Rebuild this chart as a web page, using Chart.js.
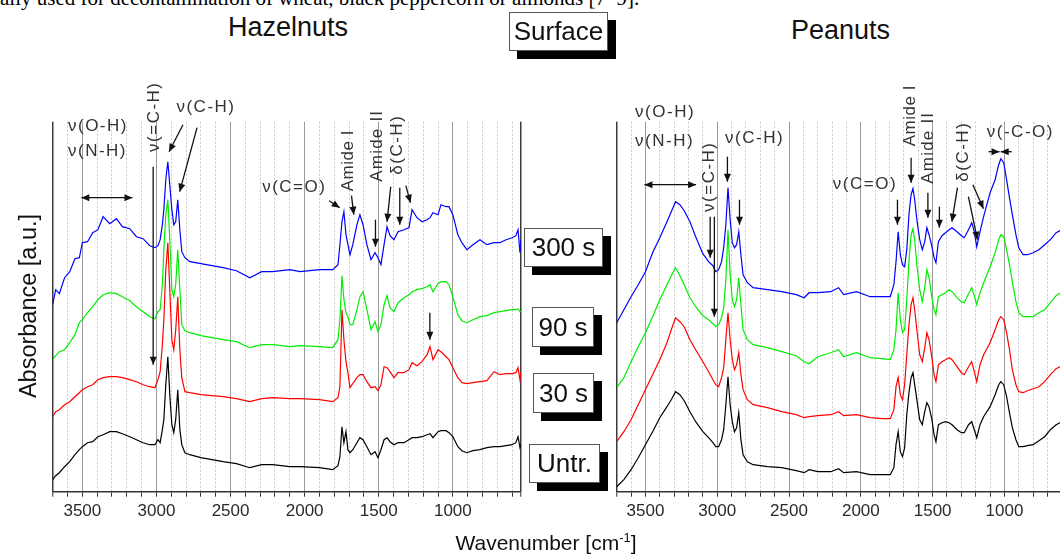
<!DOCTYPE html>
<html>
<head>
<meta charset="utf-8">
<script src="https://cdn.jsdelivr.net/npm/chart.js@4.4.1/dist/chart.umd.min.js"></script>
<style>
  html, body { margin: 0; padding: 0; background: #fff; overflow: hidden; }
  #page { position: relative; width: 1060px; height: 556px; overflow: hidden; font-family: Arial, "Liberation Sans", sans-serif; color: #111; }
  canvas { position: absolute; top: 0; }
  .t { position: absolute; white-space: nowrap; }
  .para { font-family: "Liberation Serif", "Times New Roman", serif; font-size: 21px; line-height: 21px; left: 0; top: -12px; color: #000; }
  .head { font-size: 27px; line-height: 30px; }
  .box { position: absolute; background: #fff; border: 1px solid #555; box-shadow: 8px 8px 0 #000; text-align: center; font-size: 26px; z-index: 2; box-sizing: border-box; }
  .ytitle { font-size: 23.5px; line-height: 30px; width: 260px; text-align: center; left: -102px; top: 291px; transform: rotate(-90deg); }
  .xtitle { font-size: 21px; line-height: 30px; width: 300px; text-align: center; left: 396px; top: 528px; }
  .xtitle sup { font-size: 13px; vertical-align: 8px; line-height: 0; }
</style>
</head>
<body>
<div id="page">
  <div class="t para">ally used for decontamination of wheat, black peppercorn or almonds [7–9].</div>
  <div class="t head" style="left:228px;top:12px">Hazelnuts</div>
  <div class="t head" style="left:791px;top:15px">Peanuts</div>

  <canvas id="hazel" width="530" height="556" style="left:0"></canvas>
  <canvas id="peanut" width="520" height="556" style="left:560px"></canvas>

  <div class="box" style="left:509px;top:12px;width:99px;height:39px;line-height:37px">Surface</div>
  <div class="box" id="lab0" style="left:524px;top:228px;width:79px;height:39px;line-height:37px"></div>
  <div class="box" id="lab1" style="left:532px;top:307px;width:62px;height:40px;line-height:38px"></div>
  <div class="box" id="lab2" style="left:533px;top:373px;width:61px;height:40px;line-height:38px"></div>
  <div class="box" id="lab3" style="left:529px;top:444px;width:71px;height:39px;line-height:37px"></div>

  <div class="t ytitle">Absorbance [a.u.]</div>
  <div class="t xtitle">Wavenumber [cm<sup>-1</sup>]</div>
</div>

<script>
// ---- data (absorbance, arbitrary units, traces offset as in the figure) ----
const timeLabels = ['300 s', '90 s', '30 s', 'Untr.'];
const majorTicks = [1000, 1500, 2000, 2500, 3000, 3500];
const xMin = 540, xMax = 3700;

const wnHazel = [3700,3680,3655,3620,3585,3550,3520,3500,3465,3430,3395,3360,3315,3270,3230,3180,3135,3090,3045,3010,
  2990,2975,2960,2950,2937,2923,2910,2896,2883,2870,2856,2842,2829,2808,2775,2700,2625,2550,2460,2370,
  2290,2215,2100,2030,1900,1810,1775,1762,1748,1735,1721,1708,1694,1675,1647,1627,1606,1580,1552,1525,
  1505,1485,1464,1444,1424,1397,1370,1330,1296,1275,1242,1208,1174,1154,1134,1100,1080,1046,1026,1000,
  966,939,905,864,817,770,722,682,641,600,575,560,547,540];

const hazel300 = [1.87,2.02,1.98,2.14,2.20,2.33,2.34,2.49,2.50,2.59,2.62,2.75,2.68,2.73,2.65,2.63,2.55,2.53,2.46,2.44,
  2.46,2.52,2.67,2.82,3.12,3.30,3.07,2.82,2.67,2.70,2.92,2.62,2.40,2.34,2.30,2.28,2.26,2.24,2.21,2.14,
  2.20,2.20,2.22,2.20,2.22,2.22,2.27,2.47,2.70,2.80,2.57,2.47,2.37,2.47,2.67,2.77,2.67,2.47,2.32,2.39,
  2.34,2.27,2.47,2.65,2.56,2.52,2.60,2.62,2.64,2.82,2.74,2.70,2.72,2.74,2.79,2.77,2.87,2.85,2.85,2.77,
  2.57,2.49,2.42,2.47,2.52,2.47,2.49,2.49,2.52,2.54,2.56,2.62,2.39,2.52];
const hazel90 = [1.32,1.36,1.40,1.42,1.49,1.57,1.69,1.72,1.79,1.85,1.92,1.97,1.99,1.98,1.95,1.91,1.85,1.80,1.75,1.73,
  1.80,1.82,2.07,2.42,2.77,2.92,2.52,2.02,1.95,2.07,2.42,2.02,1.67,1.61,1.59,1.56,1.54,1.52,1.50,1.44,
  1.47,1.47,1.45,1.46,1.45,1.44,1.52,1.72,2.16,1.92,1.79,1.75,1.67,1.67,1.82,1.95,2.00,1.82,1.62,1.70,
  1.60,1.67,1.87,1.96,1.84,1.80,1.89,1.94,1.97,2.00,2.02,2.03,2.05,2.07,2.00,2.08,2.10,2.10,2.07,1.95,
  1.77,1.71,1.69,1.72,1.75,1.76,1.79,1.80,1.81,1.82,1.82,1.83,1.80,1.80];
const hazel30 = [0.75,0.80,0.82,0.87,0.90,0.95,0.99,1.02,1.05,1.07,1.12,1.14,1.15,1.15,1.14,1.12,1.10,1.07,1.05,1.04,
  1.12,1.20,1.47,1.72,2.22,2.49,2.02,1.52,1.42,1.62,1.95,1.42,1.14,1.00,0.99,0.97,0.96,0.95,0.93,0.90,
  0.93,0.94,0.93,0.93,0.92,0.90,0.94,1.05,1.82,1.52,1.30,1.19,1.04,1.08,1.14,1.17,1.17,1.10,1.04,1.05,
  1.01,1.07,1.25,1.24,1.20,1.14,1.19,1.19,1.22,1.29,1.26,1.30,1.37,1.45,1.32,1.42,1.40,1.35,1.32,1.24,
  1.14,1.09,1.08,1.09,1.10,1.11,1.20,1.17,1.18,1.18,1.19,1.24,1.12,1.20];
const hazelUntr = [0.12,0.16,0.19,0.25,0.30,0.37,0.42,0.45,0.49,0.50,0.55,0.57,0.60,0.60,0.58,0.55,0.52,0.49,0.47,0.47,
  0.52,0.49,0.62,0.72,1.07,1.35,0.97,0.67,0.59,0.72,1.02,0.62,0.47,0.39,0.37,0.34,0.32,0.30,0.28,0.24,
  0.27,0.27,0.25,0.25,0.24,0.22,0.26,0.35,0.65,0.49,0.60,0.42,0.39,0.42,0.49,0.54,0.52,0.45,0.37,0.40,
  0.34,0.42,0.52,0.54,0.50,0.47,0.49,0.49,0.52,0.54,0.54,0.55,0.57,0.58,0.54,0.60,0.61,0.61,0.59,0.55,
  0.45,0.41,0.39,0.41,0.42,0.44,0.45,0.45,0.46,0.47,0.49,0.55,0.44,0.47];

const wnPeanut = [3700,3650,3600,3550,3500,3450,3400,3350,3320,3290,3260,3230,3190,3150,3100,3060,3030,3010,2990,2970,
  2955,2940,2925,2910,2895,2880,2865,2850,2835,2820,2790,2750,2650,2550,2450,2395,2360,2300,2210,2155,
  2120,2030,1935,1850,1795,1770,1755,1740,1725,1710,1695,1680,1665,1650,1637,1625,1610,1590,1572,1555,
  1540,1525,1505,1490,1477,1460,1435,1410,1385,1365,1330,1300,1280,1250,1228,1210,1193,1170,1145,1100,
  1065,1040,1025,1005,985,965,945,920,900,870,840,800,760,720,680,640,600,560,540];

const peanut300 = [1.69,1.82,1.95,2.07,2.20,2.39,2.54,2.70,2.80,2.90,2.87,2.81,2.70,2.55,2.38,2.30,2.26,2.20,2.22,2.30,
  2.44,2.67,3.04,2.72,2.49,2.44,2.47,2.60,2.37,2.17,2.09,2.04,2.02,2.00,1.97,1.94,1.99,1.99,2.00,2.04,
  1.97,2.00,1.95,1.95,1.95,2.07,2.30,2.60,2.37,2.27,2.25,2.42,2.77,2.97,3.03,2.92,2.72,2.52,2.42,2.50,
  2.64,2.57,2.45,2.34,2.29,2.50,2.56,2.59,2.62,2.64,2.60,2.56,2.54,2.62,2.69,2.60,2.45,2.60,2.75,2.99,
  3.12,3.27,3.33,3.29,3.12,2.94,2.77,2.57,2.44,2.37,2.37,2.39,2.42,2.47,2.52,2.59,2.62,2.62,2.62];
const peanut90 = [1.04,1.14,1.30,1.45,1.59,1.75,1.92,2.07,2.16,2.24,2.16,2.07,1.94,1.85,1.76,1.72,1.68,1.65,1.67,1.74,
  1.84,2.12,2.62,2.17,1.92,1.85,1.92,2.14,1.87,1.62,1.52,1.47,1.44,1.40,1.36,1.30,1.28,1.35,1.39,1.42,
  1.35,1.39,1.34,1.33,1.32,1.42,1.62,1.99,1.72,1.59,1.62,1.92,2.30,2.57,2.63,2.52,2.27,2.02,1.90,2.04,
  2.22,2.14,1.94,1.82,1.77,1.95,1.97,1.99,2.02,2.00,1.94,1.90,1.89,1.98,2.04,1.96,1.87,1.99,2.09,2.25,
  2.39,2.52,2.57,2.55,2.42,2.27,2.10,1.90,1.79,1.75,1.75,1.75,1.79,1.82,1.89,1.96,2.00,2.02,2.02];
const peanut30 = [0.50,0.60,0.72,0.87,1.02,1.17,1.32,1.49,1.62,1.74,1.70,1.65,1.52,1.42,1.30,1.20,1.12,1.07,1.05,1.14,
  1.24,1.52,1.79,1.52,1.32,1.22,1.27,1.39,1.17,1.02,0.92,0.87,0.84,0.80,0.77,0.74,0.75,0.76,0.77,0.80,
  0.76,0.77,0.74,0.73,0.73,0.82,1.05,1.14,0.97,0.92,1.07,1.37,1.67,1.87,1.94,1.82,1.62,1.37,1.30,1.44,
  1.59,1.52,1.34,1.17,1.10,1.27,1.30,1.32,1.34,1.32,1.25,1.19,1.17,1.25,1.30,1.20,1.10,1.27,1.37,1.49,
  1.62,1.72,1.75,1.72,1.59,1.42,1.22,1.07,1.00,0.99,1.01,1.03,1.05,1.10,1.17,1.23,1.26,1.29,1.30];
const peanutUntr = [0.05,0.12,0.22,0.34,0.47,0.60,0.74,0.85,0.92,1.00,0.97,0.91,0.80,0.70,0.60,0.54,0.49,0.45,0.45,0.52,
  0.62,0.87,1.15,0.87,0.70,0.60,0.64,0.79,0.52,0.37,0.30,0.27,0.25,0.24,0.21,0.19,0.22,0.20,0.20,0.23,
  0.19,0.20,0.17,0.17,0.17,0.24,0.47,0.60,0.40,0.35,0.44,0.77,0.99,1.14,1.19,1.07,0.92,0.72,0.67,0.80,
  0.89,0.85,0.72,0.57,0.50,0.67,0.69,0.70,0.69,0.67,0.62,0.59,0.59,0.67,0.70,0.62,0.54,0.67,0.75,0.85,
  0.97,1.07,1.10,1.07,0.95,0.79,0.64,0.52,0.45,0.45,0.46,0.47,0.51,0.55,0.62,0.67,0.70,0.72,0.73];

// band assignments drawn on top of the spectra (wavenumber, absorbance)
const hazelNotes = [
  { text: 'ν(O-H)', wn: 3597, a: 3.65, align: 'left' },
  { text: 'ν(N-H)', wn: 3597, a: 3.40, align: 'left' },
  { arrow: [3507, 2.94, 3162, 2.94], both: true },
  { text: 'ν(=C-H)', wn: 3012, a: 3.75, rot: true },
  { arrow: [3022, 3.25, 3022, 1.27] },
  { text: 'ν(C-H)', wn: 2865, a: 3.84, align: 'left' },
  { arrow: [2821, 3.67, 2915, 3.40] },
  { arrow: [2726, 3.64, 2843, 3.00] },
  { text: 'ν(C=O)', wn: 1853, a: 3.04, align: 'right' },
  { arrow: [1835, 2.91, 1763, 2.84] },
  { text: 'Amide I', wn: 1707, a: 3.31, rot: true, ls: 0.5 },
  { arrow: [1684, 2.96, 1668, 2.77] },
  { text: 'Amide II', wn: 1511, a: 3.46, rot: true, ls: 1.2 },
  { arrow: [1522, 2.72, 1522, 2.45] },
  { text: 'δ(C-H)', wn: 1376, a: 3.47, rot: true },
  { arrow: [1419, 3.05, 1444, 2.70] },
  { arrow: [1358, 3.04, 1358, 2.67] },
  { arrow: [1317, 3.06, 1286, 2.89] },
  { arrow: [1155, 1.79, 1155, 1.52] }
];
const peanutNotes = [
  { text: 'ν(O-H)', wn: 3572, a: 3.79, align: 'left' },
  { text: 'ν(N-H)', wn: 3572, a: 3.50, align: 'left' },
  { arrow: [3507, 3.07, 3147, 3.07], both: true },
  { text: 'ν(=C-H)', wn: 3054, a: 3.15, rot: true },
  { arrow: [3049, 2.75, 3049, 2.34] },
  { arrow: [3020, 2.75, 3020, 1.75] },
  { text: 'ν(C-H)', wn: 2945, a: 3.53, align: 'left' },
  { arrow: [2929, 3.35, 2929, 3.10] },
  { arrow: [2845, 2.92, 2845, 2.67] },
  { text: 'ν(C=O)', wn: 2195, a: 3.07, align: 'left' },
  { arrow: [1745, 2.92, 1745, 2.67] },
  { text: 'Amide I', wn: 1652, a: 3.76, rot: true, ls: 0.5 },
  { arrow: [1650, 3.34, 1650, 3.09] },
  { text: 'Amide II', wn: 1529, a: 3.44, rot: true, ls: 1.2 },
  { arrow: [1533, 2.99, 1533, 2.74] },
  { arrow: [1453, 2.85, 1453, 2.64] },
  { text: 'δ(C-H)', wn: 1286, a: 3.40, rot: true },
  { arrow: [1327, 3.04, 1366, 2.70] },
  { arrow: [1251, 2.95, 1188, 2.52] },
  { arrow: [1220, 3.07, 1146, 2.83] },
  { text: 'ν(-C-O)', wn: 1123, a: 3.59, align: 'left' },
  { arrow: [1111, 3.40, 1034, 3.40] },
  { arrow: [949, 3.40, 1026, 3.40] }
];

timeLabels.forEach((s, i) => { document.getElementById('lab' + i).textContent = s; });

Chart.defaults.font.family = 'Arial, "Liberation Sans", sans-serif';
Chart.defaults.color = '#222';

// draws the band labels and arrows using the chart's scales
const notesPlugin = {
  id: 'notes',
  afterDraw(chart, args, opts) {
    const ctx = chart.ctx;
    const sx = chart.scales.x, sy = chart.scales.y;
    const head = (x1, y1, x2, y2) => {
      const ang = Math.atan2(y2 - y1, x2 - x1);
      ctx.beginPath();
      ctx.moveTo(x2, y2);
      ctx.lineTo(x2 - 8 * Math.cos(ang) + 3.5 * Math.sin(ang), y2 - 8 * Math.sin(ang) - 3.5 * Math.cos(ang));
      ctx.lineTo(x2 - 8 * Math.cos(ang) - 3.5 * Math.sin(ang), y2 - 8 * Math.sin(ang) + 3.5 * Math.cos(ang));
      ctx.closePath();
      ctx.fill();
    };
    ctx.save();
    for (const n of opts.items) {
      if (n.text) {
        ctx.save();
        ctx.fillStyle = '#333';
        ctx.font = '17px Arial, "Liberation Sans", sans-serif';
        ctx.letterSpacing = (n.ls !== undefined ? n.ls : 1.5) + 'px';
        ctx.translate(sx.getPixelForValue(n.wn), sy.getPixelForValue(n.a));
        if (n.rot) ctx.rotate(-Math.PI / 2);
        ctx.textAlign = n.rot ? 'center' : (n.align || 'center');
        ctx.textBaseline = 'middle';
        ctx.fillText(n.text, 0, 0);
        ctx.restore();
      } else {
        const [w1, a1, w2, a2] = n.arrow;
        const x1 = sx.getPixelForValue(w1), y1 = sy.getPixelForValue(a1);
        const x2 = sx.getPixelForValue(w2), y2 = sy.getPixelForValue(a2);
        ctx.strokeStyle = '#111';
        ctx.fillStyle = '#111';
        ctx.lineWidth = 1.3;
        ctx.beginPath();
        ctx.moveTo(x1, y1);
        ctx.lineTo(x2, y2);
        ctx.stroke();
        head(x1, y1, x2, y2);
        if (n.both) head(x2, y2, x1, y1);
      }
    }
    ctx.restore();
  }
};

function isEdge(v) { return v === xMin || v === xMax; }

function makeChart(id, wn, series, notes, pad) {
  const colors = ['#0000ff', '#00ee00', '#ff0000', '#000000'];
  return new Chart(document.getElementById(id), {
    type: 'line',
    data: {
      datasets: series.map((vals, i) => ({
        label: timeLabels[i],
        data: vals.map((v, k) => ({ x: wn[k], y: v })),
        borderColor: colors[i],
        borderWidth: 1.2,
        pointRadius: 0,
        tension: 0,
        fill: false
      }))
    },
    options: {
      responsive: false,
      animation: false,
      events: [],
      layout: { padding: pad },
      plugins: { legend: { display: false }, tooltip: { enabled: false }, notes: { items: notes } },
      scales: {
        x: {
          type: 'linear',
          reverse: true,
          min: xMin,
          max: xMax,
          afterBuildTicks: scale => {
            const t = [{ value: xMin }];
            for (let v = 600; v <= xMax; v += 100) t.push({ value: v });
            scale.ticks = t;
          },
          afterFit: scale => { scale.height = 40; },
          ticks: {
            autoSkip: false,
            maxRotation: 0,
            minRotation: 0,
            padding: 4,
            font: { size: 17 },
            color: '#2a2a2a',
            callback: v => majorTicks.includes(v) ? String(v) : ''
          },
          grid: {
            color: c => isEdge(c.tick.value) ? '#3a3a3a' : (c.tick.value % 500 === 0 ? '#9a9a9a' : '#c8c8c8'),
            lineWidth: c => isEdge(c.tick.value) ? 1.5 : 1,
            tickColor: '#333',
            tickLength: 5,
            tickWidth: 1
          },
          border: {
            display: true,
            color: '#333',
            width: 1.5,
            dash: c => (c.tick && !isEdge(c.tick.value) && c.tick.value % 500 !== 0) ? [2, 2] : []
          }
        },
        y: { display: false, min: 0, max: 3.7 }
      }
    },
    plugins: [notesPlugin]
  });
}

makeChart('hazel', wnHazel, [hazel300, hazel90, hazel30, hazelUntr], hazelNotes,
  { left: 52.7, right: 9, top: 121.7, bottom: 24.3 });
makeChart('peanut', wnPeanut, [peanut300, peanut90, peanut30, peanutUntr], peanutNotes,
  { left: 56.7, right: 9.5, top: 121.7, bottom: 24.3 });
</script>
</body>
</html>
